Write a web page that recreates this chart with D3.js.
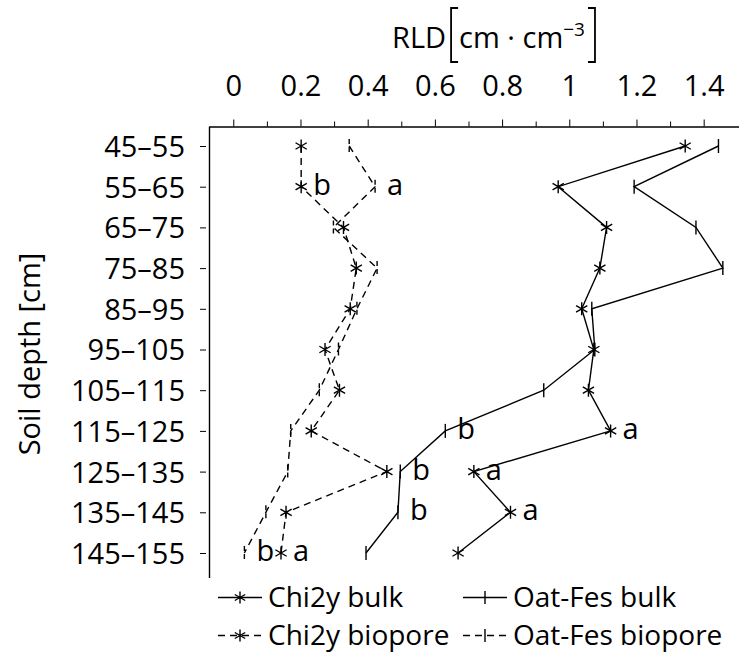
<!DOCTYPE html>
<html>
<head>
<meta charset="utf-8">
<script src="https://cdn.jsdelivr.net/npm/d3@7"></script>
<style>
body { margin: 0; background: #fff; }
text { font-family: "Open Sans", sans-serif; fill: #000; }
</style>
</head>
<body>
<div id="graph"></div>
<script>
// soil depth classes (cm)
var depths = ["45–55", "55–65", "65–75", "75–85", "85–95", "95–105", "105–115", "115–125", "125–135", "135–145", "145–155"];

// root length density, cm cm-3
var chiBulk = [1.345, 0.967, 1.111, 1.091, 1.037, 1.073, 1.057, 1.123, 0.716, 0.825, 0.669];
var oatBulk = [1.444, 1.193, 1.377, 1.457, 1.067, 1.076, 0.924, 0.631, 0.497, 0.490, 0.395];
var chiBio  = [0.202, 0.202, 0.328, 0.366, 0.348, 0.273, 0.316, 0.232, 0.457, 0.157, 0.142];
var oatBio  = [0.345, 0.422, 0.298, 0.428, 0.368, 0.313, 0.256, 0.171, 0.162, 0.097, 0.033];

// significance letters
var chiBulkSig = ["", "", "", "", "", "", "", "a", "a", "a", ""];
var oatBulkSig = ["", "", "", "", "", "", "", "b", "b", "b", ""];
var chiBioSig  = ["", "b", "", "", "", "", "", "", "", "", "a"];
var oatBioSig  = ["", "a", "", "", "", "", "", "", "", "", "b"];

var majorTicks = [0, 0.2, 0.4, 0.6, 0.8, 1, 1.2, 1.4];
var minorTicks = [0.1, 0.3, 0.5, 0.7, 0.9, 1.1, 1.3];

var series = [
  {name: "Chi2y bulk", values: chiBulk, sig: chiBulkSig, mark: "star", dashed: false},
  {name: "Oat-Fes bulk", values: oatBulk, sig: oatBulkSig, mark: "bar", dashed: false},
  {name: "Chi2y biopore", values: chiBio, sig: chiBioSig, mark: "star", dashed: true},
  {name: "Oat-Fes biopore", values: oatBio, sig: oatBioSig, mark: "bar", dashed: true}
];

var svgWidth = 739, svgHeight = 654, fs = 29;
var svg = d3.select('#graph').append('svg').attr('width', svgWidth).attr('height', svgHeight);

var x = d3.scaleLinear().domain([-0.0723, 1.52]).range([209, 744]);
var y = d3.scalePoint().domain(depths).range([146, 553]);

var axisTopY = 126.5, axisLeftX = 209.5;
var dash = "7,5";

function starPath(cx, cy, r) {
  var c = r * Math.cos(Math.PI / 6), s = r * Math.sin(Math.PI / 6);
  return "M" + cx + "," + (cy - r) + "L" + cx + "," + (cy + r) +
    "M" + (cx - c) + "," + (cy - s) + "L" + (cx + c) + "," + (cy + s) +
    "M" + (cx - c) + "," + (cy + s) + "L" + (cx + c) + "," + (cy - s);
}
function barPath(cx, cy, r) {
  return "M" + cx + "," + (cy - r) + "L" + cx + "," + (cy + r);
}
// tall math delimiter, dir = 1 for "[" and -1 for "]"
function bracketPath(bx, top, bottom, dir) {
  return "M" + (bx + dir * 7) + "," + top + "H" + bx + "V" + bottom + "H" + (bx + dir * 7);
}

// top x axis
var gx = svg.append('g').attr('transform', 'translate(0,' + axisTopY + ')')
  .call(d3.axisTop(x).tickValues(majorTicks).tickSize(7).tickSizeOuter(0)
    .tickFormat(function(d) { return d3.format("")(+d.toFixed(1)); }));
gx.select('.domain').attr('stroke', '#000').attr('stroke-width', 1.4);
gx.selectAll('.tick line').attr('stroke', '#000').attr('stroke-width', 1);
gx.selectAll('.tick text').attr('y', -31).attr('dy', 0)
  .style('font-size', fs + 'px').style('font-family', '"Open Sans", sans-serif');

svg.append('g').attr('transform', 'translate(0,' + axisTopY + ')')
  .call(d3.axisTop(x).tickValues(minorTicks).tickSize(5).tickFormat(""))
  .call(function(g) { g.select('.domain').remove(); })
  .selectAll('.tick line').attr('stroke', '#000').attr('stroke-width', 1);

// left y axis
var gy = svg.append('g').attr('transform', 'translate(' + (axisLeftX - 3.5) + ',0)')
  .call(d3.axisLeft(y).tickSize(6).tickPadding(15));
gy.select('.domain').remove();
gy.selectAll('.tick line').attr('stroke', '#000').attr('stroke-width', 1);
gy.selectAll('.tick text').attr('dy', '0.36em')
  .style('font-size', fs + 'px').style('font-family', '"Open Sans", sans-serif');

svg.append('line').attr('x1', axisLeftX).attr('x2', axisLeftX)
  .attr('y1', axisTopY).attr('y2', 578)
  .attr('stroke', '#000').attr('stroke-width', 1.4);

// axis titles
var title = svg.append('g');
var tx = 392;
var t1 = title.append('text').attr('x', tx).attr('y', 48).style('font-size', fs + 'px').text('RLD');
tx += t1.node().getComputedTextLength() + 5;
title.append('path').attr('d', bracketPath(tx, 8, 62, 1))
  .attr('fill', 'none').attr('stroke', '#000').attr('stroke-width', 1.8);
tx += 8;
var t2 = title.append('text').attr('x', tx).attr('y', 48).style('font-size', fs + 'px');
t2.append('tspan').text('cm · cm');
t2.append('tspan').attr('dy', -12).style('font-size', '19px').text('−3');
tx += t2.node().getComputedTextLength() + 10;
title.append('path').attr('d', bracketPath(tx, 8, 62, -1))
  .attr('fill', 'none').attr('stroke', '#000').attr('stroke-width', 1.8);

svg.append('text')
  .attr('transform', 'translate(40,' + 354 + ') rotate(-90)')
  .style('text-anchor', 'middle').style('font-size', fs + 'px')
  .text('Soil depth [cm]');

// series
var line = d3.line()
  .x(function(d) { return x(d.v); })
  .y(function(d) { return y(d.depth); });

series.forEach(function(s) {
  var pts = s.values.map(function(v, i) { return {v: v, depth: depths[i], sig: s.sig[i]}; });
  var g = svg.append('g');
  g.append('path').datum(pts)
    .attr('d', line)
    .attr('fill', 'none').attr('stroke', '#000').attr('stroke-width', 1.4)
    .attr('stroke-dasharray', s.dashed ? dash : null);
  g.selectAll('.mark').data(pts).enter().append('path')
    .attr('class', 'mark')
    .attr('d', function(d) {
      return s.mark === "star" ? starPath(x(d.v), y(d.depth), 6.5) : barPath(x(d.v), y(d.depth), 7);
    })
    .attr('fill', 'none').attr('stroke', '#000').attr('stroke-width', 1.4)
    .attr('stroke-dasharray', (s.dashed && s.mark === "bar") ? "5,3" : null);
  g.selectAll('.sig').data(pts.filter(function(d) { return d.sig; })).enter().append('text')
    .attr('class', 'sig')
    .attr('x', function(d) { return x(d.v) + 12; })
    .attr('y', function(d) { return y(d.depth) + 8; })
    .style('font-size', fs + 'px')
    .text(function(d) { return d.sig; });
});

// legend
var legendPos = [
  {x: 218, y: 597.5}, {x: 463, y: 597.5},
  {x: 218, y: 635.5}, {x: 463, y: 635.5}
];
series.forEach(function(s, i) {
  var p = legendPos[i], w = 44;
  var lg = svg.append('g').attr('class', 'legend');
  lg.append('line').attr('x1', p.x).attr('x2', p.x + w).attr('y1', p.y).attr('y2', p.y)
    .attr('stroke', '#000').attr('stroke-width', 1.4)
    .attr('stroke-dasharray', s.dashed ? dash : null);
  lg.append('path')
    .attr('d', s.mark === "star" ? starPath(p.x + w / 2, p.y, 6) : barPath(p.x + w / 2, p.y, 6.5))
    .attr('fill', 'none').attr('stroke', '#000').attr('stroke-width', 1.4);
  lg.append('text').attr('x', p.x + w + 6).attr('y', p.y + 9.8)
    .style('font-size', '28px').text(s.name);
});
</script>
</body>
</html>
